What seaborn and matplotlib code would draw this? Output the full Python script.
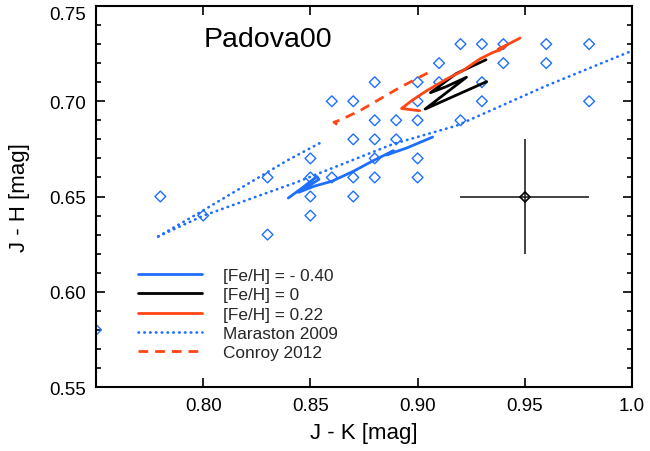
import matplotlib
matplotlib.use("Agg")
import matplotlib.pyplot as plt
import matplotlib.transforms as mtransforms
import seaborn as sns
import pandas as pd
from matplotlib.ticker import MultipleLocator, FixedLocator, FormatStrFormatter

# ---------------- data ----------------
obs_jk = [0.75, 0.78, 0.80, 0.83, 0.83, 0.85, 0.85, 0.85, 0.85, 0.86, 0.86,
          0.87, 0.87, 0.87, 0.87, 0.88, 0.88, 0.88, 0.88, 0.88, 0.89, 0.89,
          0.90, 0.90, 0.90, 0.90, 0.90, 0.91, 0.91, 0.92, 0.92, 0.93, 0.93,
          0.93, 0.94, 0.94, 0.96, 0.96, 0.98, 0.98]
obs_jh = [0.58, 0.65, 0.64, 0.66, 0.63, 0.67, 0.66, 0.65, 0.64, 0.70, 0.66,
          0.70, 0.68, 0.66, 0.65, 0.71, 0.69, 0.68, 0.67, 0.66, 0.69, 0.68,
          0.71, 0.70, 0.69, 0.67, 0.66, 0.72, 0.71, 0.73, 0.69, 0.73, 0.71,
          0.70, 0.73, 0.72, 0.73, 0.72, 0.73, 0.70]

feh_m040_jk = [0.8397, 0.8465, 0.8530, 0.8540, 0.8445, 0.8520, 0.8600, 0.8700,
               0.8793, 0.8887, 0.8855, 0.8950, 0.9070]
feh_m040_jh = [0.6492, 0.6548, 0.6605, 0.6590, 0.6522, 0.6555, 0.6580, 0.6632,
               0.6688, 0.6740, 0.6718, 0.6755, 0.6812]

feh_0_jk = [0.9319, 0.9180, 0.9060, 0.9130, 0.9228, 0.9035, 0.9322]
feh_0_jh = [0.7218, 0.7145, 0.7045, 0.7075, 0.7126, 0.6959, 0.7103]

feh_p022_jk = [0.9010, 0.8925, 0.8975, 0.9042, 0.9136, 0.9210, 0.9290, 0.9353,
               0.9384, 0.9410, 0.9375, 0.9420, 0.9478]
feh_p022_jh = [0.6950, 0.6962, 0.7005, 0.7055, 0.7117, 0.7160, 0.7222, 0.7257,
               0.7269, 0.7290, 0.7272, 0.7298, 0.7332]

maraston_a_jk = [0.779, 0.800, 0.8436, 0.8887, 0.9182, 0.9602, 1.0]
maraston_a_jh = [0.629, 0.6399, 0.6575, 0.6776, 0.6872, 0.7082, 0.7265]
maraston_b_jk = [0.779, 0.7985, 0.839, 0.856]
maraston_b_jh = [0.629, 0.6417, 0.6688, 0.679]

conroy_jk = [0.8625, 0.8610, 0.8640, 0.8730, 0.8918, 0.9058]
conroy_jh = [0.6878, 0.6890, 0.6902, 0.6950, 0.7073, 0.7155]

err_jk, err_jh = 0.95, 0.65
err_size = 0.03

xtick_vals = [0.80, 0.85, 0.90, 0.95, 1.0]
xtick_labels = ["0.80", "0.85", "0.90", "0.95", "1.0"]
legend_labels = ["[Fe/H] = - 0.40", "[Fe/H] = 0", "[Fe/H] = 0.22",
                 "Maraston 2009", "Conroy 2012"]
title_text = "Padova00"

# ---------------- style ----------------
sns.set_theme(style="ticks")
plt.rcParams['font.family'] = ['Liberation Sans', 'DejaVu Sans']
plt.rcParams['axes.linewidth'] = 1.5

BLUE = '#1e6fff'
RED = '#ff4614'

fig = plt.figure(figsize=(6.5, 4.52), dpi=100)
ax = fig.add_axes([96 / 650, 1 - 388 / 452, 536 / 650, 381 / 452])

obs = pd.DataFrame({'jk': obs_jk, 'jh': obs_jh})
sns.scatterplot(data=obs, x='jk', y='jh', marker='D', s=30, facecolor='none',
                edgecolor=BLUE, linewidth=1.0, ax=ax, legend=False, zorder=2)

def track(xs, ys, **kw):
    df = pd.DataFrame({'jk': xs, 'jh': ys})
    sns.lineplot(data=df, x='jk', y='jh', sort=False, estimator=None, ax=ax,
                 legend=False, **kw)
    return ax.lines[-1]

dot_style = dict(color=BLUE, lw=1.9, linestyle=(0, (0.2, 2.0)),
                 dash_capstyle='round', zorder=3)
h_mar = track(maraston_a_jk, maraston_a_jh, **dot_style)
track(maraston_b_jk, maraston_b_jh, **dot_style)
h_con = track(conroy_jk, conroy_jh, color=RED, lw=2.0,
              linestyle=(0, (3.5, 2.5)), zorder=3)
h_blue = track(feh_m040_jk, feh_m040_jh, color=BLUE, lw=2.0, zorder=4)
h_black = track(feh_0_jk, feh_0_jh, color='black', lw=2.0, zorder=4)
h_red = track(feh_p022_jk, feh_p022_jh, color=RED, lw=2.0, zorder=5)

ax.errorbar([err_jk], [err_jh], xerr=err_size, yerr=err_size, fmt='D', ms=5,
            mfc='none', mec='black', mew=1.2, ecolor='#222222', elinewidth=1.2,
            capsize=0, zorder=6)

ax.set_xlim(0.75, 1.0)
ax.set_ylim(0.55, 0.75)
ax.xaxis.set_major_locator(FixedLocator(xtick_vals))
ax.set_xticklabels(xtick_labels)
ax.yaxis.set_major_locator(MultipleLocator(0.05))
ax.yaxis.set_minor_locator(MultipleLocator(0.01))
ax.yaxis.set_major_formatter(FormatStrFormatter('%.2f'))
ax.tick_params(which='both', direction='in', top=True, right=True,
               colors='black', labelsize=13.5)
ax.tick_params(which='major', length=6.5, width=1.2, pad=7)
ax.tick_params(which='minor', length=3.4, width=1.2)
for sp in ax.spines.values():
    sp.set_color('black')
    sp.set_linewidth(1.5)

ax.set_xlabel("J - K [mag]", fontsize=16, labelpad=6, color='black')
ax.set_ylabel("J - H [mag]", fontsize=16, labelpad=14, color='black')

ax.text(0.80, 0.7292, title_text, fontsize=20.5, ha='left', va='baseline',
        color='black')

ax.legend([h_blue, h_black, h_red, h_mar, h_con], legend_labels,
          loc='upper left', bbox_to_anchor=(0.0784, 0.3124), frameon=False,
          fontsize=12.4, handlelength=3.7, handletextpad=1.25,
          labelspacing=0.25, borderpad=0, borderaxespad=0)

# the top y label sits slightly below its tick in the reference
fig.canvas.draw()
shift = mtransforms.ScaledTranslation(0, -6 / 100, fig.dpi_scale_trans)
for tick in ax.yaxis.get_major_ticks():
    if abs(tick.get_loc() - 0.75) < 1e-6:
        tick.label1.set_transform(tick.label1.get_transform() + shift)

fig.savefig('out.png', dpi=100)
